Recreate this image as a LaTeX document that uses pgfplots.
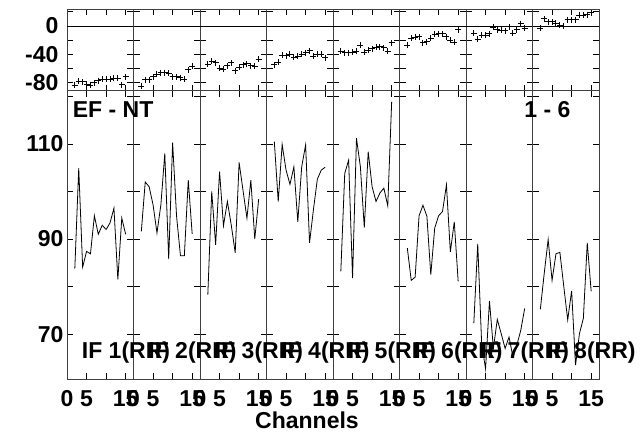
\documentclass[border=0pt]{standalone}
\usepackage{pgfplots}
\pgfplotsset{compat=1.18}
\usepackage{pgfplotstable}
\usepackage{fontspec}
\setmainfont{Liberation Sans}
\newcommand{\lbl}{\bfseries\fontsize{23}{23}\selectfont}

\pgfplotstableread{
x t1 t2 t3 t4 t5 t6 t7 t8
2 -84 -85 -54 -55 -36 -27 -10 -3
3 -78 -76 -50 -51 -38 -17 -19 10
4 -79 -76 -52 -41 -38 -16 -13 6
5 -82 -72 -60 -42 -37 -15 -13 6
6 -84 -68 -61 -40 -36 -24 -11 4
7 -80 -66 -56 -44 -27 -22 -2 1
8 -77 -66 -52 -43 -37 -17 -5 0
9 -75 -67 -63 -40 -34 -12 -6 9
10 -75 -72 -58 -38 -32 -11 -7 9
11 -75 -72 -55 -35 -30 -11 -1 9
12 -74 -73 -53 -43 -29 -15 -10 15
13 -74 -75 -56 -40 -31 -20 -5 15
14 -83 -62 -57 -40 -36 -23 3 16
15 -72 -57 -47 -45 -24 -5 -3 19
}\toptable

\pgfplotstableread{
x b1 b2 b3 b4 b5 b6 b7 b8
2 83.8 91.6 78.3 110.5 83.2 88.1 72.3 75.2
3 104.9 102.0 100.0 97.9 103.8 81.3 89.0 82.8
4 84.1 101.0 88.8 109.9 106.6 82.0 68.0 89.9
5 87.4 97.2 104.2 104.5 81.8 94.9 62.7 81.3
6 86.9 91.3 92.8 101.5 111.2 97.1 77.0 86.9
7 94.9 97.2 97.9 105.2 105.2 94.8 67.0 87.2
8 91.0 108.0 92.9 93.6 92.4 82.5 73.1 80.0
9 92.9 85.8 87.1 105.2 108.4 92.3 70.1 73.0
10 92.0 110.3 106.1 109.8 101.0 94.9 67.0 79.1
11 93.4 94.9 100.2 89.2 97.9 95.8 69.4 63.5
12 96.5 86.5 94.4 96.2 99.7 101.4 65.2 70.1
13 81.5 86.5 102.4 102.6 100.7 87.3 67.7 73.3
14 94.4 102.4 90.0 104.5 97.0 93.6 70.8 89.2
15 91.0 91.1 98.4 105.1 118.9 81.1 75.4 79.0
}\bottable

\pgfplotsset{
  panel/.style={
    scale only axis, width=66.5pt, anchor=south west,
    xmin=0, xmax=17, xtick={0,5,10,15},
    tick align=inside, xtick pos=both, ytick pos=both,
    major tick length=6pt,
    axis line style={line width=1pt, black!75},
    tick style={line width=0.9pt, black},
    /pgf/number format/assume math mode=true,
    tick label style={font=\lbl},
  },
  toprow/.style={panel, height=81.4pt, ymin=-91.4, ymax=23.6,
    ytick={-80,-60,-40,-20,0,20}, xticklabels={},
    yticklabel style={xshift=-5pt}},
  botrow/.style={panel, height=288.6pt, ymin=60.5, ymax=121.2,
    ytick={70,80,90,100,110,120},
    xticklabels={0,5,,15},
    xticklabel style={yshift=-8pt}},
  tlab1/.style={yticklabels={-80,,-40,,0,}},
  blab1/.style={yticklabels={70,,90,,110,}},
  tlab2/.style={yticklabels={}}, blab2/.style={yticklabels={}},
  tlab3/.style={yticklabels={}}, blab3/.style={yticklabels={}},
  tlab4/.style={yticklabels={}}, blab4/.style={yticklabels={}},
  tlab5/.style={yticklabels={}}, blab5/.style={yticklabels={}},
  tlab6/.style={yticklabels={}}, blab6/.style={yticklabels={}},
  tlab7/.style={yticklabels={}}, blab7/.style={yticklabels={}},
  tlab8/.style={yticklabels={}}, blab8/.style={yticklabels={}},
}

\begin{document}
\begin{tikzpicture}[x=1pt,y=1pt]
\path[use as bounding box] (0,0) rectangle (643,432);
\foreach \i in {1,...,8}{
  \pgfmathsetmacro\xl{67+66.5*(\i-1)}
  \begin{axis}[toprow, tlab\i, at={(\xl pt,341.3pt)}]
    \addplot[black, line width=0.9pt, forget plot] coordinates {(0,0) (17,0)};
    \addplot[only marks, mark=+, mark size=3pt, black, mark options={line width=1pt}] table[x=x,y=t\i]{\toptable};
  \end{axis}
  \begin{axis}[botrow, blab\i, at={(\xl pt,52.7pt)}]
    \addplot[black, line width=0.8pt, mark=none] table[x=x,y=b\i]{\bottable};
  \end{axis}
}
\node[anchor=base west, inner sep=0pt, font=\lbl] at (72.7,314.7) {EF - NT};
\node[anchor=base east, inner sep=0pt, font=\lbl] at (570.7,314.7) {1 - 6};
\foreach \i in {1,...,8}{
  \pgfmathsetmacro\xt{81.7+66.5*(\i-1)}
  \node[anchor=base west, inner sep=0pt, font=\lbl] at (\xt,73.7) {IF \i(RR)};
}
\node[anchor=base, inner sep=0pt, font=\lbl] at (307,4) {Channels};
\end{tikzpicture}
\end{document}
